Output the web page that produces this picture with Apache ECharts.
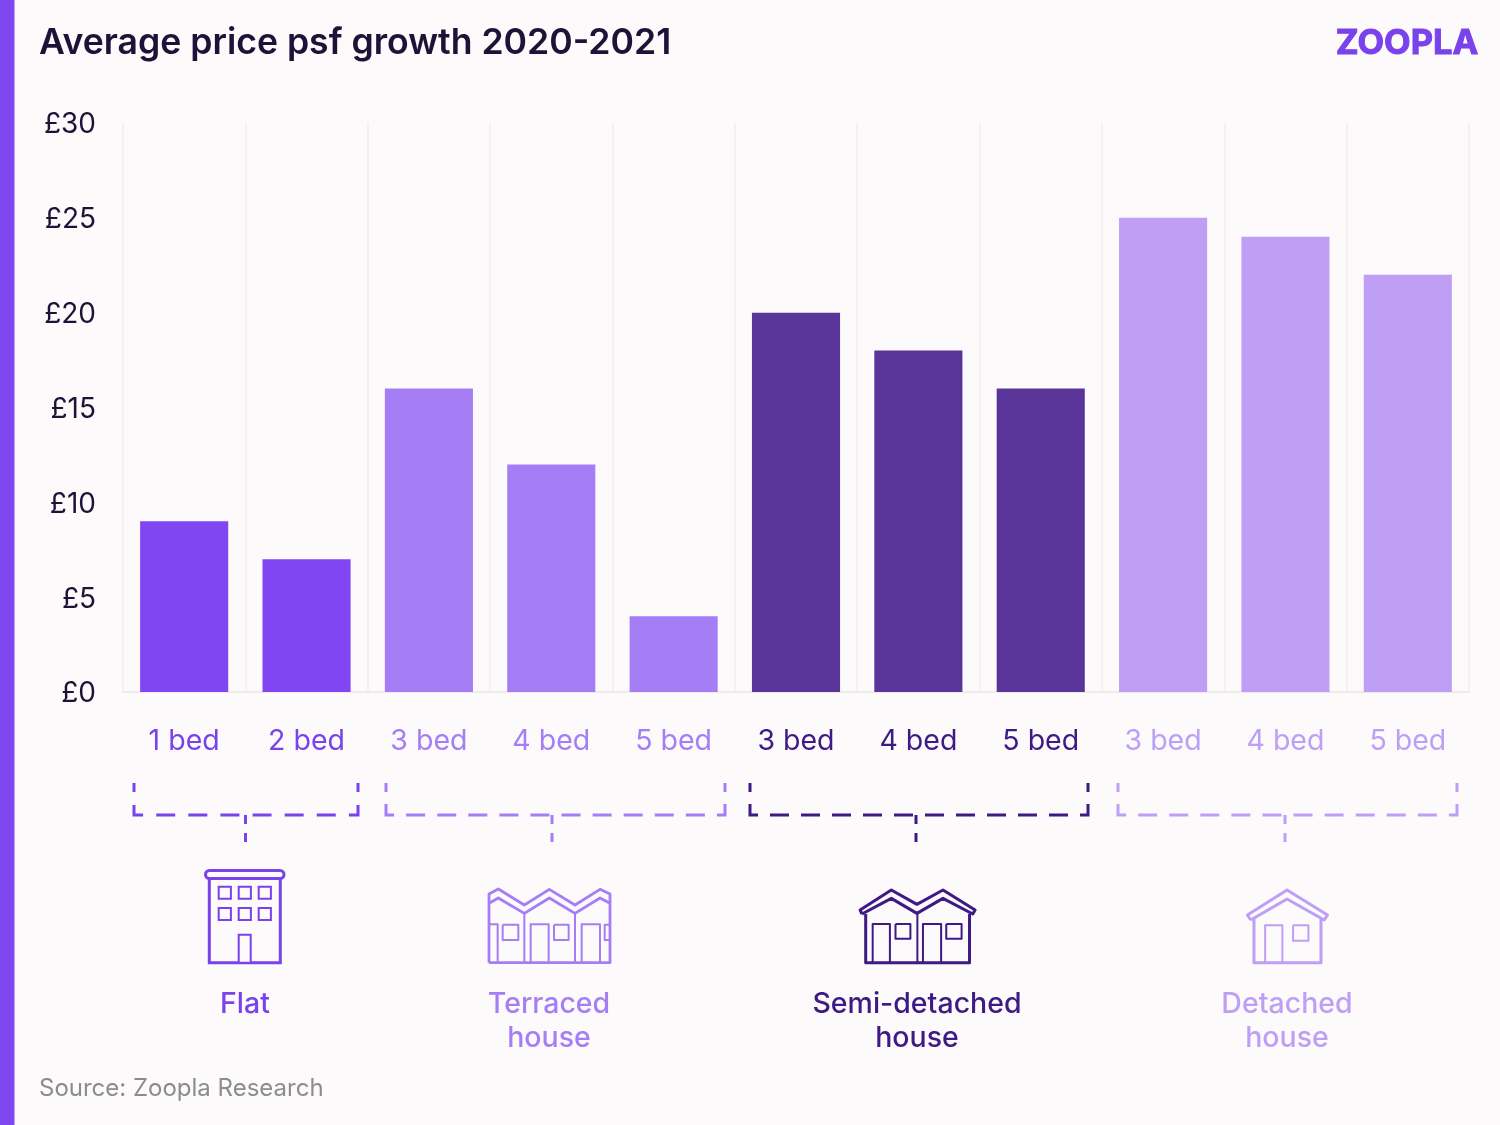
<!DOCTYPE html>
<html><head><meta charset="utf-8">
<style>html,body{margin:0;padding:0;background:#fcfafa}#c{width:1500px;height:1125px}</style>
<script src="https://cdn.jsdelivr.net/npm/echarts@6/dist/echarts.min.js"></script>
</head><body><div id="c"></div>
<script>
const categories = ['1 bed','2 bed','3 bed','4 bed','5 bed','3 bed','4 bed','5 bed','3 bed','4 bed','5 bed'];
const values = [9,7,16,12,4,20,18,16,25,24,22];
const groupOf = [0,0,1,1,1,2,2,2,3,3,3];
const barColors = ['#8046f1','#a57ef5','#5a3599','#bf9ff5'];
const textColors = ['#7a42ea','#a57ef5','#3f1a85','#bf9ff5'];
const groupNames = ['Flat','Terraced\nhouse','Semi-detached\nhouse','Detached\nhouse'];
const yTicks = {min:0,max:30,interval:5};
const FONT = 'Inter';
const bg = '#fcfafa';

const g = [];
function line(pts,color,lw,extra){
  g.push({type:'polyline',silent:true,shape:{points:pts},style:Object.assign({fill:null,stroke:color,lineWidth:lw,lineJoin:'round'},extra||{})});
}
function box(x1,y1,x2,y2,color,lw,r){
  g.push({type:'rect',silent:true,shape:{x:x1,y:y1,width:x2-x1,height:y2-y1,r:r||0},style:{fill:bg,stroke:color,lineWidth:lw}});
}
function text(x,y,t,size,color,weight,align,extra){
  g.push({type:'text',silent:true,x:x,y:y,style:Object.assign({text:t,font:(weight||400)+' '+size+'px '+FONT,fill:color,align:align||'left',verticalAlign:'middle',lineHeight:34},extra||{})});
}
function bracket(x1,x2,stem,color,n){
  const top=783,bot=815,W=x2-x1,L=2*(bot-top)+W,d=19,half=9;
  const gap=(L-2*half-n*d)/(n+1);
  line([[x1,top],[x1,bot],[x2,bot],[x2,top]],color,3,{lineJoin:'miter',lineDash:[d,gap],lineDashOffset:d-half});
  line([[stem,815],[stem,843]],color,3,{lineDash:[9,9]});
}
// left stripe
g.push({type:'rect',silent:true,shape:{x:0,y:0,width:14.5,height:1125},style:{fill:'#8046f1'}});
// title, logo, source
text(39,43.5,'Average price psf growth 2020-2021',35.6,'#1f1238',600);
text(1407,44,'ZOOPLA',34.5,'#7a42ea',700,'center',{stroke:'#7a42ea',lineWidth:1});
text(39,1089,'Source: Zoopla Research',24,'#8c8c8c',400);
// brackets
bracket(134,358,245.5,textColors[0],8);
bracket(386,725,552,textColors[1],12);
bracket(750,1088,916,textColors[2],12);
bracket(1118,1457,1285,textColors[3],12);
// group names
text(245,1004,groupNames[0],28.5,textColors[0],500,'center');
text(549,1021,groupNames[1],28.5,textColors[1],500,'center');
text(917,1021,groupNames[2],28.5,textColors[2],500,'center');
text(1287,1021,groupNames[3],28.5,textColors[3],500,'center');
// flat icon
(function(){const c=textColors[0];
  box(209.3,878,280.3,962.7,c,3);
  box(205.5,870.5,284,878.5,c,3,4);
  [218.7,238.7,258.7].forEach(x=>[886.7,908].forEach(y=>box(x,y,x+12.2,y+12,c,2)));
  box(238.7,934.7,250.7,962.7,c,2);
})();
// terraced icon
(function(){const c=textColors[1],X=z=>120+z/3,Y=z=>770+z/3,P=a=>a.map(p=>[X(p[0]),Y(p[1])]);
  line(P([[1107,578],[1107,372],[1135,357],[1213,405],[1288,358],[1365,405],[1440,358],[1470,372],[1470,578],[1107,578]]),c,2.8);
  line(P([[1107,400],[1135,384],[1213,430],[1288,384],[1365,430],[1440,384],[1470,400]]),c,2.8);
  line(P([[1213,430],[1213,578]]),c,2); line(P([[1365,430],[1365,578]]),c,2);
  line(P([[1107,463],[1133,463],[1133,578]]),c,2);
  line(P([[1232,578],[1232,463],[1286,463],[1286,578]]),c,2);
  line(P([[1385,578],[1385,463],[1440,463],[1440,578]]),c,2);
  line(P([[1148,464],[1195,464],[1195,510],[1148,510],[1148,464]]),c,2);
  line(P([[1302,464],[1346,464],[1346,510],[1302,510],[1302,464]]),c,2);
  line(P([[1470,464],[1454,464],[1454,510],[1470,510]]),c,2);
})();
// semi icon
(function(){const c=textColors[2],X=z=>740+z/2.148,Y=z=>770+z/3,P=a=>a.map(p=>[X(p[0]),Y(p[1])]);
  line(P([[270,432],[270,578],[493,578],[493,432]]),c,3);
  line(P([[381,430],[381,578]]),c,2);
  line(P([[262,432],[258,420],[325,360],[380,403],[436,360],[505,420],[500,432],[436,385],[380,430],[325,385],[262,432]]),c,3);
  line(P([[285,578],[285,462],[322,462],[322,578]]),c,2);
  line(P([[393,578],[393,462],[432,462],[432,578]]),c,2);
  line(P([[334,462],[366,462],[366,506],[334,506],[334,462]]),c,2);
  line(P([[443,462],[476,462],[476,506],[443,506],[443,462]]),c,2);
})();
// detached icon
(function(){const c=textColors[3],X=z=>740+z/2.148,Y=z=>770+z/3,P=a=>a.map(p=>[X(p[0]),Y(p[1])]);
  line(P([[1104,445],[1104,578],[1248,578],[1248,445]]),c,3);
  line(P([[1097,450],[1090,435],[1175,360],[1262,435],[1255,450],[1175,387],[1097,450]]),c,3);
  line(P([[1128,578],[1128,466],[1165,466],[1165,578]]),c,2);
  line(P([[1188,466],[1221,466],[1221,512],[1188,512],[1188,466]]),c,2);
})();

const chart = echarts.init(document.getElementById('c'),null,{renderer:'canvas'});
chart.setOption({
  backgroundColor:bg,
  animation:false,
  grid:{left:123,right:31,top:123,bottom:433,containLabel:false},
  xAxis:{type:'category',
    data:categories.map((c,i)=>({value:c,textStyle:{color:textColors[groupOf[i]]}})),
    axisTick:{show:false},
    axisLine:{lineStyle:{color:'#eeebeb',width:2}},
    splitLine:{show:true,interval:0,lineStyle:{color:'#f1efef',width:1.5}},
    axisLabel:{interval:0,margin:35,fontFamily:FONT,fontSize:28.5,fontWeight:400}},
  yAxis:{type:'value',min:yTicks.min,max:yTicks.max,interval:yTicks.interval,
    axisLine:{show:false},axisTick:{show:false},splitLine:{show:false},
    axisLabel:{margin:27,formatter:v=>'£'+v,fontFamily:FONT,fontSize:28,color:'#1f1238',verticalAlign:'top',lineHeight:4}},
  series:[{type:'bar',barWidth:'72%',
    data:values.map((v,i)=>({value:v,itemStyle:{color:barColors[groupOf[i]]}}))}],
  graphic:g
});
</script></body></html>
